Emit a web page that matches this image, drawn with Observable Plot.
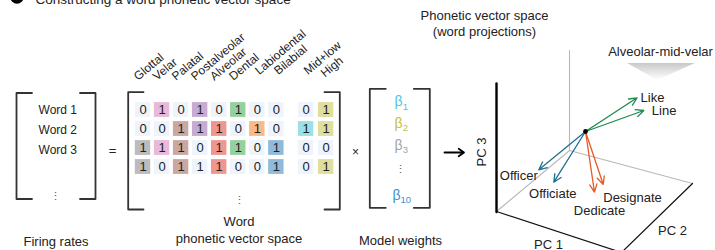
<!DOCTYPE html>
<html><head><meta charset="utf-8">
<script src="https://cdn.jsdelivr.net/npm/d3@7"></script>
<script src="https://cdn.jsdelivr.net/npm/@observablehq/plot@0.6"></script>
<style>
body{margin:0;background:#fff;}
#chart svg{display:block;overflow:visible;}
</style>
</head><body><div id="chart"></div>
<script>
// ---------------- DATA ----------------
const title = "Constructing a word phonetic vector space";
const rowWords = ["Word 1", "Word 2", "Word 3"];
const features = ["Glottal","Velar","Palatal","Postalveolar","Alveolar","Dental","Labiodental","Bilabial","Mid+low","High"];
const matrix = [
  [0,1,0,1,0,1,0,0,0,1],
  [0,0,1,1,1,0,1,0,1,1],
  [1,1,1,0,1,1,0,1,0,0],
  [1,0,1,1,1,0,0,1,0,1]
];
const unshadedOnes = [[3,3]];            // a "1" drawn without its colour in the source
const betaSubscripts = ["1","2","3","10"];
const projWords = ["Like","Line","Officer","Officiate","Designate","Dedicate"];
const projGroup = ["velar","velar","officer","officer","designate","designate"];
const pc1 = [-1, -1, 4, 5, 2, 3];
const pc2 = [3.6, 4.15, -1.42, 0.39, 2.63, 2.51];
const pc3 = [3.95, 2.86, -1.86, -1.89, -3.21, -3.41];
const clusterLabel = "Alveolar-mid-velar";
const captions = {rates: "Firing rates", space: ["Word", "phonetic vector space"], weights: "Model weights",
  proj: ["Phonetic vector space", "(word projections)"], axes: ["PC 1", "PC 2", "PC 3"]};

// ---------------- STYLE / LAYOUT ----------------
const featureColors = ["#bcbcbc","#e8b9d9","#c8a8a0","#c6abd3","#ee9791","#96d0a0","#f8ba88","#90bad9","#9be0e7","#dfde9c"];
const paleCell = "#eef3fc";
const betaColors = ["#4cc3dc","#c4c043","#a3a3a3","#3f8fca"];
const groupColor = {velar:"#1d8b4c", officer:"#1f7091", designate:"#e35b27"};
const ink = "#222";
const wedgeMarker = "#d7d8d9";
const FONT = "'Liberation Sans', Arial, Helvetica, sans-serif";

const colX = i => i < 8 ? 142.5 + 19.05 * i : 305.6 + 20 * (i - 8);
const rowY = r => 109.5 + 19 * r;
const cw = 7.7, ch = 7.4;
const labelShift = [0,0,0,0,0,0,9,9,9,5];

const cells = [];
matrix.forEach((row, r) => row.forEach((v, c) => {
  const plain = unshadedOnes.some(([rr, cc]) => rr === r && cc === c);
  cells.push({x: colX(c), y: rowY(r), v, fill: v && !plain ? featureColors[c] : paleCell});
}));
const featLabels = features.map((f, i) => {
  const s = labelShift[i];
  return {t: f, x: colX(i) - 5 + s * 0.77, y: 80.5 - s * 0.64};
});

function bracket(xl, xr, yt, yb, s) {
  return [
    [[xl + s, yt], [xl, yt], [xl, yb], [xl + s, yb]],
    [[xr - s, yt], [xr, yt], [xr, yb], [xr - s, yb]]
  ];
}
const brackets = [
  ...bracket(16, 95, 92.5, 198.5, 15.5),
  ...bracket(127.7, 339.3, 91.7, 209, 15.3),
  ...bracket(369.3, 429.3, 88.3, 207.3, 16)
].map((pts, k) => pts.map(([x, y]) => ({x, y, k}))).flat();

const wordRows = rowWords.map((w, i) => ({t: w, x: 76.5, y: 109.3 + 20 * i}));

const betaRowsY = [101.5, 123.3, 145, 195];
const betaItems = betaSubscripts.map((s, i) => {
  const bw = 7.7, sw = 4.4 * s.length;
  const start = 400.5 - (bw + sw) / 2;
  return {b: "β", s, x: start, xs: start + bw, y: betaRowsY[i], c: betaColors[i]};
});

// 3-D projection of PC coordinates
const O = [585, 131], e1 = [-7.3, 6.1], e2 = [12.3, 3.3], e3 = [0, -10];
const vecs = projWords.map((w, i) => ({
  w, g: projGroup[i],
  x1: O[0], y1: O[1],
  x2: O[0] + pc1[i]*e1[0] + pc2[i]*e2[0] + pc3[i]*e3[0],
  y2: O[1] + pc1[i]*e1[1] + pc2[i]*e2[1] + pc3[i]*e3[1]
}));
const labelPlace = {Like:[3.5,0,"start"], Line:[8,0,"start"], Officer:[-1,6,"end"], Officiate:[-1,11.5,"middle"], Designate:[0,13.5,"start"], Dedicate:[5,19,"middle"]};
const vecLabels = vecs.map(d => {
  const [dx, dy, a] = labelPlace[d.w];
  return {t: d.w, x: d.x2 + dx, y: d.y2 + dy, a};
});

const L = [496, 211], B = [569, 150], R = [692, 183], F = [621, 252];
const grayEdges = [[B, L], [B, R], [B, [569, 50]]].map((s, k) => s.map(([x, y]) => ({x, y, k}))).flat();
const blackEdges = [[L, F], [R, F]].map((s, k) => s.map(([x, y]) => ({x, y, k}))).flat();
const pc3Axis = [{x: 496, y: 83}, {x: 496, y: 211.5}];
const wedge = [{x: 627, y1: 63, y2: 63}, {x: 657, y1: 63, y2: 80}, {x: 695, y1: 63, y2: 63}];

const T = (data, o) => Plot.text(data, {fontFamily: FONT, fill: ink, ...o});

const plot = Plot.plot({
  width: 715, height: 250,
  margin: 0,
  x: {domain: [0, 715], range: [0, 715], axis: null},
  y: {domain: [0, 250], range: [0, 250], axis: null},
  style: {fontFamily: FONT, background: "#fff"},
  marks: [
    // title
    Plot.dot([0], {x: () => 16.5, y: () => -3.5, r: 6.7, fill: "#000", stroke: "none"}),
    T([title], {x: () => 35, y: () => 3, text: d => d, textAnchor: "start", lineAnchor: "bottom", fontSize: 13.5}),
    // brackets
    Plot.line(brackets, {x: "x", y: "y", z: "k", stroke: "#333", strokeWidth: 1.8, curve: "linear"}),
    // firing rates
    T(wordRows, {x: "x", y: "y", text: "t", textAnchor: "end", fontSize: 12}),
    T(["⋮"], {x: () => 55, y: () => 195.5, text: d => d, fontSize: 11, fill: "#555"}),
    T(["="], {x: () => 112, y: () => 150, text: d => d, fontSize: 13}),
    // matrix
    Plot.rect(cells, {x1: d => d.x - cw, x2: d => d.x + cw, y1: d => d.y - ch, y2: d => d.y + ch, fill: "fill"}),
    T(cells, {x: "x", y: "y", text: d => String(d.v), fontSize: 13}),
    T(featLabels, {x: "x", y: "y", text: "t", rotate: -40, textAnchor: "start", lineAnchor: "bottom", fontSize: 12}),
    T(["⋮"], {x: () => 239.3, y: () => 199.5, text: d => d, fontSize: 11, fill: "#555"}),
    T(["×"], {x: () => 355, y: () => 152, text: d => d, fontSize: 12}),
    // betas
    T(betaItems, {x: "xs", y: "y", text: "b", textAnchor: "end", fontSize: 14, fill: "c"}),
    T(betaItems, {x: "xs", y: d => d.y + 4.5, text: "s", textAnchor: "start", fontSize: 9.5, fill: "c"}),
    T(["⋮"], {x: () => 400, y: () => 169, text: d => d, fontSize: 11, fill: "#555"}),
    // bottom captions
    T([captions.rates], {x: () => 55.5, y: () => 241, text: d => d, fontSize: 13}),
    T(captions.space, {x: () => 238.5, y: (d, i) => 221.5 + 16.5 * i, text: d => d, fontSize: 13}),
    T([captions.weights], {x: () => 400, y: () => 240, text: d => d, fontSize: 13}),
    // arrow to projection
    Plot.arrow([0], {x1: () => 444, x2: () => 463.5, y1: () => 152, y2: () => 152, stroke: "#000", strokeWidth: 1.8, headLength: 7, headAngle: 70}),
    // projection panel
    T(captions.proj, {x: () => 484, y: (d, i) => 15 + 16.5 * i, text: d => d, fontSize: 13}),
    Plot.line(grayEdges, {x: "x", y: "y", z: "k", stroke: "#b8b8b8", strokeWidth: 1.1}),
    Plot.line(blackEdges, {x: "x", y: "y", z: "k", stroke: "#111", strokeWidth: 1.2}),
    Plot.line(pc3Axis, {x: "x", y: "y", stroke: "#000", strokeWidth: 2.4}),
    Plot.areaY(wedge, {x: "x", y1: "y1", y2: "y2", fill: wedgeMarker, curve: "linear"}),
    T([clusterLabel], {x: () => 660, y: () => 51, text: d => d, fontSize: 13}),
    Plot.arrow(vecs, {x1: "x1", y1: "y1", x2: "x2", y2: "y2", stroke: d => groupColor[d.g], strokeWidth: 1.3, headLength: 10, headAngle: 50}),
    Plot.dot([0], {x: () => O[0], y: () => O[1], r: 2.4, fill: "#000", stroke: "none"}),
    ...["start", "middle", "end"].map(a =>
      T(vecLabels.filter(d => d.a === a), {x: "x", y: "y", text: "t", textAnchor: a, fontSize: 13})),
    T(captions.axes.slice(0, 2), {x: (d, i) => [548, 672][i], y: (d, i) => [244, 230][i], text: d => d, fontSize: 13}),
    T([captions.axes[2]], {x: () => 481.5, y: () => 151.5, text: d => d, rotate: -90, fontSize: 13})
  ]
});

// gradient for the cluster wedge
const svgSel = d3.select(plot);
const defs = svgSel.insert("defs", ":first-child");
const g = defs.append("linearGradient").attr("id", "wedgeGrad").attr("x1", 0).attr("y1", 0).attr("x2", 0).attr("y2", 1);
g.append("stop").attr("offset", "0%").attr("stop-color", "#c9c9c9");
g.append("stop").attr("offset", "100%").attr("stop-color", "#ffffff");
svgSel.selectAll("[fill]").filter(function() { return this.getAttribute("fill") === wedgeMarker; })
  .attr("fill", "url(#wedgeGrad)");

document.getElementById("chart").appendChild(plot);
</script></body></html>
